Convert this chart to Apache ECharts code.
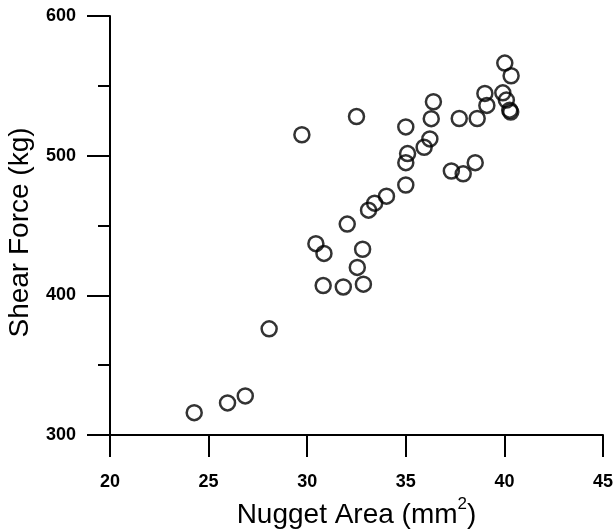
<!DOCTYPE html>
<html>
<head>
<meta charset="utf-8">
<script src="https://cdn.jsdelivr.net/npm/echarts@6/dist/echarts.min.js"></script>
<style>
  html, body { margin: 0; padding: 0; background: #fff; }
  #chart { width: 615px; height: 529px; }
</style>
</head>
<body>
<div id="chart"></div>
<script>
// 焊点面积 (mm2)
var nuggetArea = [24.27, 25.96, 26.86, 28.07, 29.73, 30.44, 30.85, 30.81, 31.83, 32.03,
    32.50, 32.54, 32.81, 32.85, 33.11, 33.42, 34.02, 35.00, 35.00, 35.09,
    35.00, 35.93, 36.22, 36.29, 36.40, 37.31, 37.91, 38.52, 37.71, 38.62,
    39.01, 39.11, 40.02, 40.34, 39.92, 40.10, 40.27, 40.32];
// 剪切力 (kg)
var shearForce = [316, 323, 328, 376, 515, 437, 430, 407, 406, 451,
    528, 420, 433, 408, 461, 466, 471, 479, 495, 501.5,
    520.6, 506, 512, 526.5, 538.6, 489, 487, 495, 526.6, 526.6,
    544.6, 536, 566.3, 557.2, 545, 539.8, 532.6, 531.2];
var xTicks = [20, 25, 30, 35, 40, 45];
var yTicks = [300, 400, 500, 600];

var points = [];
for (var i = 0; i < nuggetArea.length; i++) {
    points.push([nuggetArea[i], shearForce[i]]);
}

var chart = echarts.init(document.getElementById('chart'));
var font = 'Liberation Sans, Arial, sans-serif';

var option = {
    backgroundColor: '#fff',
    animation: false,
    grid: {
        left: 110,
        top: 16,
        right: 12,
        bottom: 94,
        outerBoundsMode: 'none'
    },
    xAxis: {
        type: 'value',
        min: xTicks[0],
        max: xTicks[xTicks.length - 1],
        interval: 5,
        name: 'Nugget Area (mm{sup|2})',
        nameLocation: 'middle',
        nameGap: 56,
        nameTextStyle: {
            color: '#000',
            fontFamily: font,
            fontSize: 28,
            rich: {
                sup: { fontSize: 17, fontFamily: font, color: '#000', padding: [0, 0, 22, 0] }
            }
        },
        axisLine: { show: true, onZero: false, lineStyle: { color: '#000', width: 2 } },
        axisTick: { show: true, inside: false, length: 22, lineStyle: { color: '#000', width: 2 } },
        axisLabel: {
            margin: 38,
            color: '#000',
            fontFamily: font,
            fontWeight: 'bold',
            fontSize: 18
        },
        splitLine: { show: false }
    },
    yAxis: {
        type: 'value',
        min: yTicks[0],
        max: yTicks[yTicks.length - 1],
        interval: 100,
        name: 'Shear Force (kg)',
        nameLocation: 'middle',
        nameGap: 76,
        nameTextStyle: {
            color: '#000',
            fontFamily: font,
            fontSize: 28,
            padding: [0, 14, 0, 0]
        },
        axisLine: { show: true, onZero: false, lineStyle: { color: '#000', width: 2 } },
        axisTick: { show: true, inside: false, length: 23, lineStyle: { color: '#000', width: 2 } },
        minorTick: { show: true, splitNumber: 2, length: 12, lineStyle: { color: '#000', width: 2 } },
        axisLabel: {
            margin: 34,
            color: '#000',
            fontFamily: font,
            fontWeight: 'bold',
            fontSize: 18
        },
        splitLine: { show: false },
        minorSplitLine: { show: false }
    },
    series: [{
        type: 'scatter',
        data: points,
        symbol: 'circle',
        symbolSize: 15,
        itemStyle: {
            color: 'rgba(255,255,255,0)',
            borderColor: '#000',
            borderWidth: 2.5
        }
    }]
};

chart.setOption(option);
</script>
</body>
</html>
